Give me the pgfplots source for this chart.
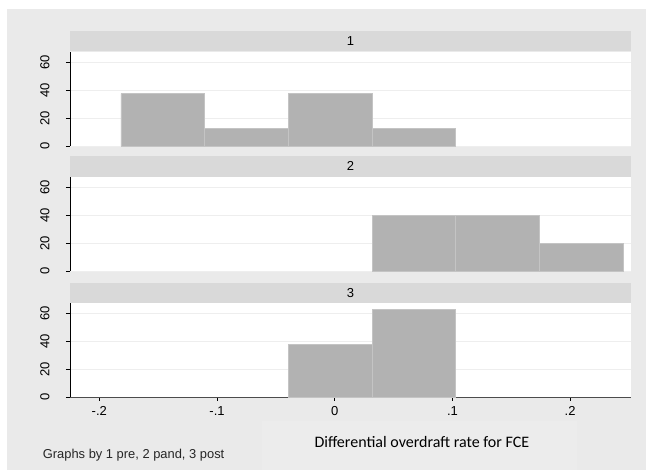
\documentclass[border=0pt]{standalone}
\usepackage{pgfplots}
\pgfplotsset{compat=1.18}
\usepackage{fontspec}
\setmainfont{Liberation Sans}
\newfontfamily\calibri{Carlito}
\definecolor{bgout}{RGB}{234,234,234}
\definecolor{strip}{RGB}{217,217,217}
\definecolor{barfill}{RGB}{178,178,178}
\definecolor{baredge}{RGB}{196,196,196}
\definecolor{gridc}{RGB}{238,238,238}
\definecolor{boxc}{RGB}{236,236,236}
\pgfplotsset{
  panel/.style={
    scale only axis, width=561pt, height=94pt,
    xmin=-0.2249, xmax=0.2517, ymin=0, ymax=67.2,
    axis background/.style={fill=white},
    ytick={0,20,40,60}, ymajorgrids, grid style={gridc, line width=0.8pt},
    axis y line*=left, y axis line style={black, line width=0.8pt},
    tick align=outside, major tick length=4pt,
    tick style={black, line width=0.7pt},
    yticklabel style={rotate=90, anchor=south, font=\fontsize{13}{14}\selectfont, yshift=13pt},
    /pgf/number format/assume math mode=true,
    clip=false,
  },
  hist/.style={ybar interval, fill=barfill, draw=baredge, line width=0.8pt},
}
\begin{document}
\begin{tikzpicture}[x=1pt,y=-1pt]
\path[use as bounding box] (0,0) rectangle (646,470);
\fill[bgout] (7,9) rectangle (646,470);
\fill[boxc] (262,421.5) rectangle (577,470);
% strips
\fill[strip] (70,31) rectangle (631,51);
\fill[strip] (70,156) rectangle (631,177);
\fill[strip] (70,283) rectangle (631,303);
\node[font=\fontsize{13}{14}\selectfont, anchor=base] at (350.5,46) {1};
\node[font=\fontsize{13}{14}\selectfont, anchor=base] at (350.5,171) {2};
\node[font=\fontsize{13}{14}\selectfont, anchor=base] at (350.5,298) {3};
% panel 1
\begin{axis}[panel, at={(70pt,-146pt)}, anchor=south west, xtick=\empty, axis x line=none]
\addplot[hist] coordinates {(-0.1816,37.5) (-0.1105,12.5) (-0.0394,37.5) (0.0317,12.5) (0.1028,0)};
\end{axis}
% panel 2
\begin{axis}[panel, at={(70pt,-271pt)}, anchor=south west, xtick=\empty, axis x line=none]
\addplot[hist] coordinates {(0.0317,40) (0.1028,40) (0.1739,20) (0.2450,0)};
\end{axis}
% panel 3
\begin{axis}[panel, at={(70pt,-397pt)}, anchor=south west,
  axis x line*=bottom, x axis line style={black!70, line width=0.8pt},
  xtick={-0.2,-0.1,0,0.1,0.2}, xticklabels={-.2,-.1,0,.1,.2},
  xticklabel style={font=\fontsize{13}{14}\selectfont, yshift=-2pt}]
\addplot[hist] coordinates {(-0.0394,37.5) (0.0317,62.5) (0.1028,0)};
\end{axis}
\node[font=\calibri\fontsize{16}{18}\selectfont, anchor=base west] at (311,448) {Differential overdraft rate for FCE};
\node[font=\fontsize{12.9}{15}\selectfont, anchor=base west, inner sep=0pt, text=black!85] at (42.7,458.3) {Graphs by 1 pre, 2 pand, 3 post};
\end{tikzpicture}
\end{document}
